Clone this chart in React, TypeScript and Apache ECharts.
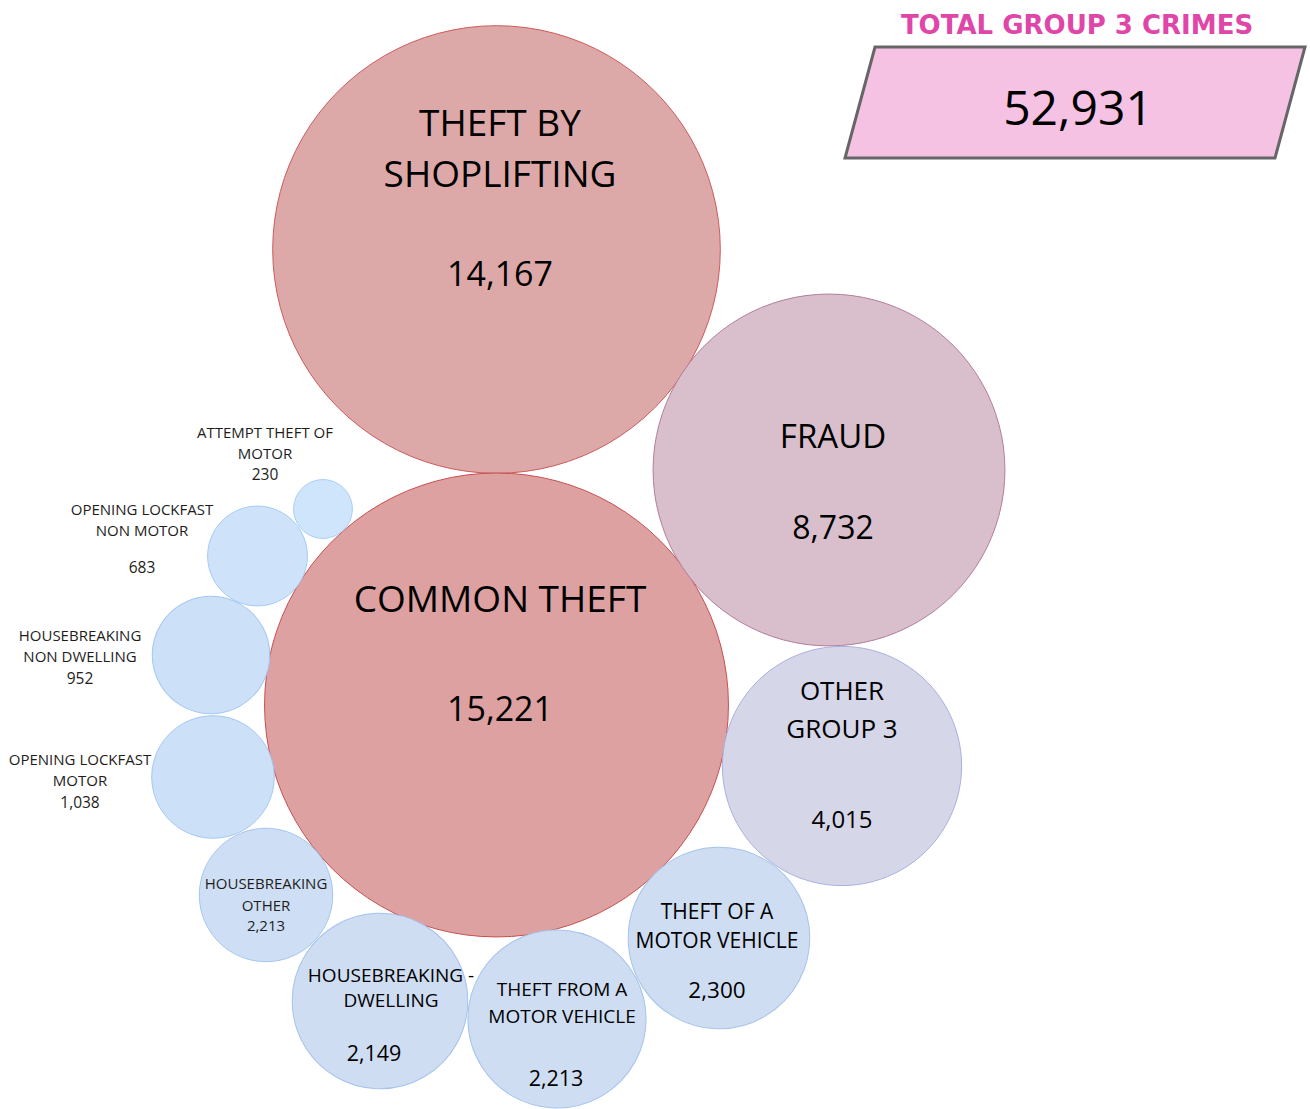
import React, { useEffect, useRef } from "react";
import * as echarts from "echarts";

// ---- data ----
const categories = [
  "THEFT BY SHOPLIFTING",
  "COMMON THEFT",
  "FRAUD",
  "OTHER GROUP 3",
  "THEFT OF A MOTOR VEHICLE",
  "THEFT FROM A MOTOR VEHICLE",
  "HOUSEBREAKING - DWELLING",
  "HOUSEBREAKING OTHER",
  "OPENING LOCKFAST MOTOR",
  "HOUSEBREAKING NON DWELLING",
  "OPENING LOCKFAST NON MOTOR",
  "ATTEMPT THEFT OF MOTOR",
];
// counts that size the bubbles (sum = total shown in the card)
const bubbleCounts = [14167, 15221, 8732, 4015, 2300, 2213, 2149, 1231, 1038, 952, 683, 230];
// counts as printed in the bubble labels
const printedCounts = [14167, 15221, 8732, 4015, 2300, 2213, 2149, 2213, 1038, 952, 683, 230];
const labelLines = [
  ["THEFT BY", "SHOPLIFTING"],
  ["COMMON THEFT"],
  ["FRAUD"],
  ["OTHER", "GROUP 3"],
  ["THEFT OF A", "MOTOR VEHICLE"],
  ["THEFT FROM A", "MOTOR VEHICLE"],
  ["HOUSEBREAKING -", "DWELLING"],
  ["HOUSEBREAKING", "OTHER"],
  ["OPENING LOCKFAST", "MOTOR"],
  ["HOUSEBREAKING", "NON DWELLING"],
  ["OPENING LOCKFAST", "NON MOTOR"],
  ["ATTEMPT THEFT OF", "MOTOR"],
];
const cardTitle = "TOTAL GROUP 3 CRIMES";

// ---- layout (packing positions, label placement, styles) ----
type Lay = {
  cx: number; cy: number; lx: number; y1: number; lh: number; yv: number;
  fn: number; fv: number; vdx: number; fill: string; stroke: string;
};
const layout: Lay[] = [
  { cx: 496.5, cy: 249.5, lx: 500, y1: 121, lh: 51, yv: 273, fn: 37, fv: 34, vdx: 0, fill: "#DDA8A8", stroke: "#CC5A5A" },
  { cx: 496.5, cy: 705, lx: 500, y1: 597, lh: 52, yv: 708, fn: 37, fv: 34, vdx: 0, fill: "#DDA1A1", stroke: "#C84E4E" },
  { cx: 829, cy: 470, lx: 833, y1: 435, lh: 45, yv: 526, fn: 33, fv: 32, vdx: 0, fill: "#D9BFCB", stroke: "#B27C9C" },
  { cx: 842, cy: 766, lx: 842, y1: 690, lh: 38, yv: 818, fn: 26, fv: 24, vdx: 0, fill: "#D5D6E8", stroke: "#A9B0DE" },
  { cx: 719, cy: 938, lx: 717, y1: 911, lh: 28.5, yv: 989, fn: 21, fv: 22.5, vdx: 0, fill: "#CEDDF2", stroke: "#A5C3EC" },
  { cx: 557, cy: 1019, lx: 562, y1: 989, lh: 27, yv: 1077, fn: 19, fv: 21.5, vdx: -6, fill: "#CEDDF2", stroke: "#A5C3EC" },
  { cx: 380, cy: 1001, lx: 391, y1: 975, lh: 25, yv: 1052, fn: 19, fv: 21.5, vdx: -17, fill: "#CEDDF2", stroke: "#A5C3EC" },
  { cx: 266, cy: 895, lx: 266, y1: 883, lh: 21.5, yv: 925, fn: 15, fv: 15, vdx: 0, fill: "#CEDFF5", stroke: "#A3C5F0" },
  { cx: 213, cy: 777, lx: 80, y1: 759, lh: 21, yv: 802, fn: 15, fv: 15.5, vdx: 0, fill: "#CCE0F7", stroke: "#A3C7F2" },
  { cx: 211, cy: 655, lx: 80, y1: 635, lh: 21, yv: 678, fn: 15, fv: 15.5, vdx: 0, fill: "#CCE0F7", stroke: "#A3C7F2" },
  { cx: 257.5, cy: 556, lx: 142, y1: 509, lh: 21, yv: 567, fn: 15, fv: 15.5, vdx: 0, fill: "#CEE2F9", stroke: "#A6CBF4" },
  { cx: 323, cy: 509, lx: 265, y1: 432, lh: 21, yv: 474, fn: 15, fv: 15.5, vdx: 0, fill: "#CFE5FB", stroke: "#A8CEF6" },
];

const W = 1310;
const H = 1109;
const RADIUS_K = 1.872;
const FONT = "'Open Sans', 'Noto Sans', sans-serif";

const fmt = (v: number) => v.toLocaleString("en-US");

export default function App() {
  const ref = useRef<HTMLDivElement>(null);

  useEffect(() => {
    if (!ref.current) return;
    const chart = echarts.init(ref.current, undefined, { renderer: "svg" });

    const total = bubbleCounts.reduce((a, b) => a + b, 0);

    const data = categories.map((name, i) => {
      const L = layout[i];
      const n = labelLines[i].length;
      const top = L.y1 - L.lh / 2;
      const nameEnd = top + n * L.lh;
      const vLH = 2 * (L.yv - nameEnd);
      const bottom = nameEnd + vLH;
      const offY = (top + bottom) / 2 - L.cy;
      const offX = L.lx - L.cx;
      const textColor = L.fn >= 19 ? "#000000" : "#1e1d1c";
      const padR = L.vdx < 0 ? -2 * L.vdx : 0;
      const padL = L.vdx > 0 ? 2 * L.vdx : 0;
      return {
        name,
        value: [L.cx, L.cy, bubbleCounts[i]],
        itemStyle: { color: L.fill, borderColor: L.stroke, borderWidth: 1, opacity: 1 },
        label: {
          show: true,
          position: "inside",
          offset: [offX, offY],
          align: "center",
          verticalAlign: "middle",
          formatter:
            labelLines[i].map((t) => `{n|${t}}`).join("\n") + `\n{v|${fmt(printedCounts[i])}}`,
          rich: {
            n: { fontSize: L.fn, lineHeight: L.lh, fontFamily: FONT, fontWeight: 500, color: textColor },
            v: {
              fontSize: L.fv,
              lineHeight: vLH,
              fontFamily: FONT,
              fontWeight: 500,
              color: textColor,
              padding: [0, padR, 0, padL],
            },
          },
        },
      };
    });

    chart.setOption({
      animation: false,
      backgroundColor: "#ffffff",
      grid: { left: 0, right: 0, top: 0, bottom: 0, containLabel: false },
      xAxis: { type: "value", min: 0, max: W, show: false },
      yAxis: { type: "value", min: 0, max: H, inverse: true, show: false },
      series: [
        {
          type: "scatter",
          silent: true,
          symbol: "circle",
          symbolSize: (val: number[]) => 2 * (RADIUS_K * Math.sqrt(val[2]) + 1),
          data,
        },
      ],
      graphic: [
        {
          type: "polygon",
          shape: {
            points: [
              [875, 47],
              [1305, 47],
              [1275, 158],
              [845, 158],
            ],
          },
          style: { fill: "#F5C2E4", stroke: "#666666", lineWidth: 3 },
          z: 10,
        },
        {
          type: "text",
          x: 1077,
          y: 25,
          style: {
            text: cardTitle,
            fill: "#E046A8",
            font: "bold 26px 'DejaVu Sans', sans-serif",
            textAlign: "center",
            textVerticalAlign: "middle",
          },
          z: 11,
        },
        {
          type: "text",
          x: 1078,
          y: 106,
          style: {
            text: fmt(total),
            fill: "#000000",
            font: `500 48px ${FONT}`,
            textAlign: "center",
            textVerticalAlign: "middle",
          },
          z: 11,
        },
      ],
    });

    return () => chart.dispose();
  }, []);

  return (
    <div
      ref={ref}
      style={{ position: "absolute", left: 0, top: 0, width: W, height: H }}
    />
  );
}
